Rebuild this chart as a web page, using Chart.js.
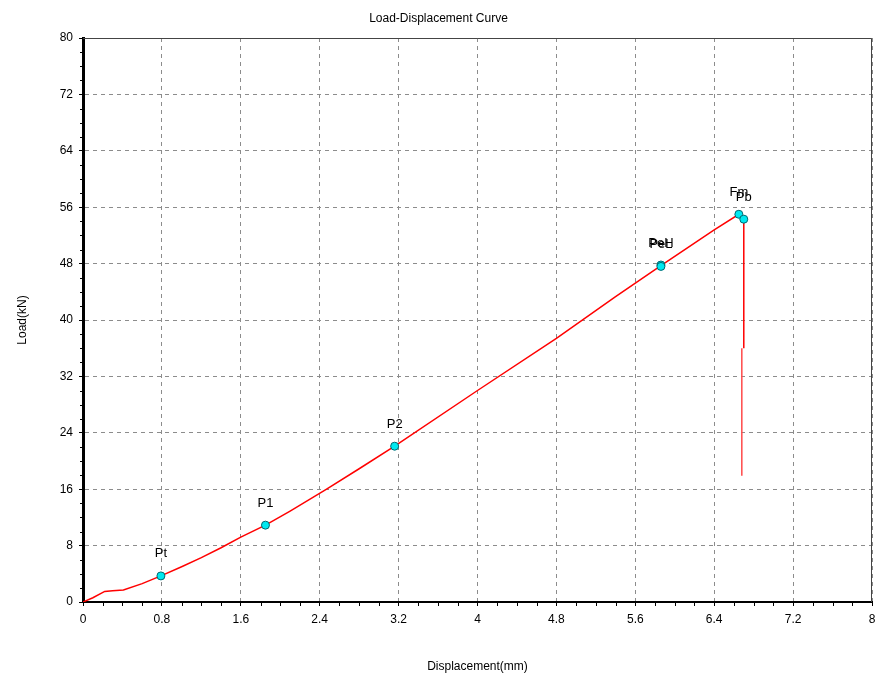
<!DOCTYPE html>
<html>
<head>
<meta charset="utf-8">
<script src="https://cdn.jsdelivr.net/npm/chart.js@4.4.1/dist/chart.umd.min.js"></script>
<style>html,body{margin:0;padding:0;background:#fff}</style>
</head>
<body>
<canvas id="chart" width="877" height="677"></canvas>
<script>
// load-displacement curve
const curveX = [0, 0.1, 0.22, 0.3, 0.41, 0.6, 0.79, 1.0, 1.2, 1.4, 1.6, 1.85, 2.1, 2.47, 2.8, 3.16, 4.0, 4.8, 5.4, 5.86, 6.4, 6.65, 6.70, 6.70];
const curveY = [0, 0.6, 1.5, 1.6, 1.7, 2.6, 3.7, 5.0, 6.3, 7.7, 9.2, 10.9, 12.9, 16.0, 18.9, 22.1, 30.0, 37.4, 43.3, 47.7, 52.8, 55.0, 54.3, 36.0];
const tailX = [6.68, 6.68];
const tailY = [36.0, 17.9];

const markerNames = ['Pt', 'P1', 'P2', 'PeH', 'PeL', 'Fm', 'Pb'];
const markerX = [0.79, 1.85, 3.16, 5.86, 5.86, 6.65, 6.70];
const markerY = [3.7, 10.9, 22.1, 47.8, 47.6, 55.0, 54.3];

const xTicks = [0, 0.8, 1.6, 2.4, 3.2, 4, 4.8, 5.6, 6.4, 7.2, 8];
const yTicks = [0, 8, 16, 24, 32, 40, 48, 56, 64, 72, 80];

const toPts = (xs, ys) => xs.map((v, i) => ({ x: v, y: ys[i] }));

const font = { family: 'Liberation Sans, Arial, sans-serif', size: 12 };

// frame on top/right, minor ticks and marker labels
const extras = {
    id: 'extras',
    afterDraw(chart) {
        const { ctx, chartArea: a, scales: { x, y } } = chart;
        ctx.save();
        ctx.strokeStyle = '#444';
        ctx.lineWidth = 1;
        ctx.beginPath();
        ctx.moveTo(a.left, a.top + 0.5);
        ctx.lineTo(a.right - 0.5, a.top + 0.5);
        ctx.lineTo(a.right - 0.5, a.bottom);
        ctx.stroke();

        ctx.strokeStyle = '#000';
        ctx.beginPath();
        for (let i = 1; i < 40; i++) {
            if (i % 4 === 0) continue;
            const px = Math.round(x.getPixelForValue(i * 0.2)) + 0.5;
            ctx.moveTo(px, a.bottom);
            ctx.lineTo(px, a.bottom + 4);
        }
        for (let i = 1; i < 40; i++) {
            if (i % 4 === 0) continue;
            const py = Math.round(y.getPixelForValue(i * 2)) + 0.5;
            ctx.moveTo(a.left - 3, py);
            ctx.lineTo(a.left + 2, py);
        }
        ctx.stroke();

        const meta = chart.getDatasetMeta(2);
        ctx.fillStyle = '#000';
        ctx.font = '13px Liberation Sans, Arial, sans-serif';
        ctx.textAlign = 'center';
        ctx.textBaseline = 'middle';
        meta.data.forEach((pt, i) => {
            ctx.fillText(markerNames[i], pt.x, pt.y - 22);
        });
        ctx.restore();
    }
};

new Chart(document.getElementById('chart').getContext('2d'), {
    type: 'scatter',
    data: {
        datasets: [{
            data: toPts(curveX, curveY),
            showLine: true,
            borderColor: '#ff0000',
            borderWidth: 1.5,
            pointRadius: 0,
            order: 2
        }, {
            data: toPts(tailX, tailY),
            showLine: true,
            borderColor: '#ff4a4a',
            borderWidth: 1.5,
            pointRadius: 0,
            order: 2
        }, {
            data: toPts(markerX, markerY),
            pointStyle: 'circle',
            pointRadius: 4,
            pointBackgroundColor: '#00e8f0',
            pointBorderColor: '#006870',
            pointBorderWidth: 1,
            order: 1
        }]
    },
    options: {
        responsive: false,
        animation: false,
        layout: { padding: { left: 0, right: 0, top: 0, bottom: 0 } },
        plugins: {
            legend: { display: false },
            tooltip: { enabled: false },
            title: {
                display: true,
                text: 'Load-Displacement Curve',
                color: '#000',
                font: { family: font.family, size: 12, weight: 'normal' },
                padding: { top: 11, bottom: 12.6 }
            }
        },
        scales: {
            x: {
                type: 'linear',
                min: 0,
                max: 8,
                afterBuildTicks: s => { s.ticks = xTicks.map(v => ({ value: v })); },
                afterFit: s => { s.height = 75; s.paddingLeft = 0; s.paddingRight = 5; },
                ticks: { color: '#000', font: font, padding: 6, maxRotation: 0, callback: v => String(v) },
                grid: { color: '#8c8c8c', tickColor: '#000', tickLength: 4, tickBorderDash: [], lineWidth: 1 },
                border: { display: true, color: '#000', width: 2, dash: [4, 4] },
                title: { display: true, text: 'Displacement(mm)', color: '#000', font: font, padding: { top: 0, bottom: 3 } }
            },
            y: {
                type: 'linear',
                min: 0,
                max: 80,
                afterBuildTicks: s => { s.ticks = yTicks.map(v => ({ value: v })); },
                afterFit: s => { s.width = 83; },
                ticks: { color: '#000', font: font, padding: 6, callback: v => String(v) },
                grid: { color: '#8c8c8c', tickColor: '#000', tickLength: 4, tickBorderDash: [], lineWidth: 1 },
                border: { display: true, color: '#000', width: 3, dash: [4, 4] },
                title: { display: true, text: 'Load(kN)', color: '#000', font: font, padding: { top: 15, bottom: 0 } }
            }
        }
    },
    plugins: [extras]
});
</script>
</body>
</html>
